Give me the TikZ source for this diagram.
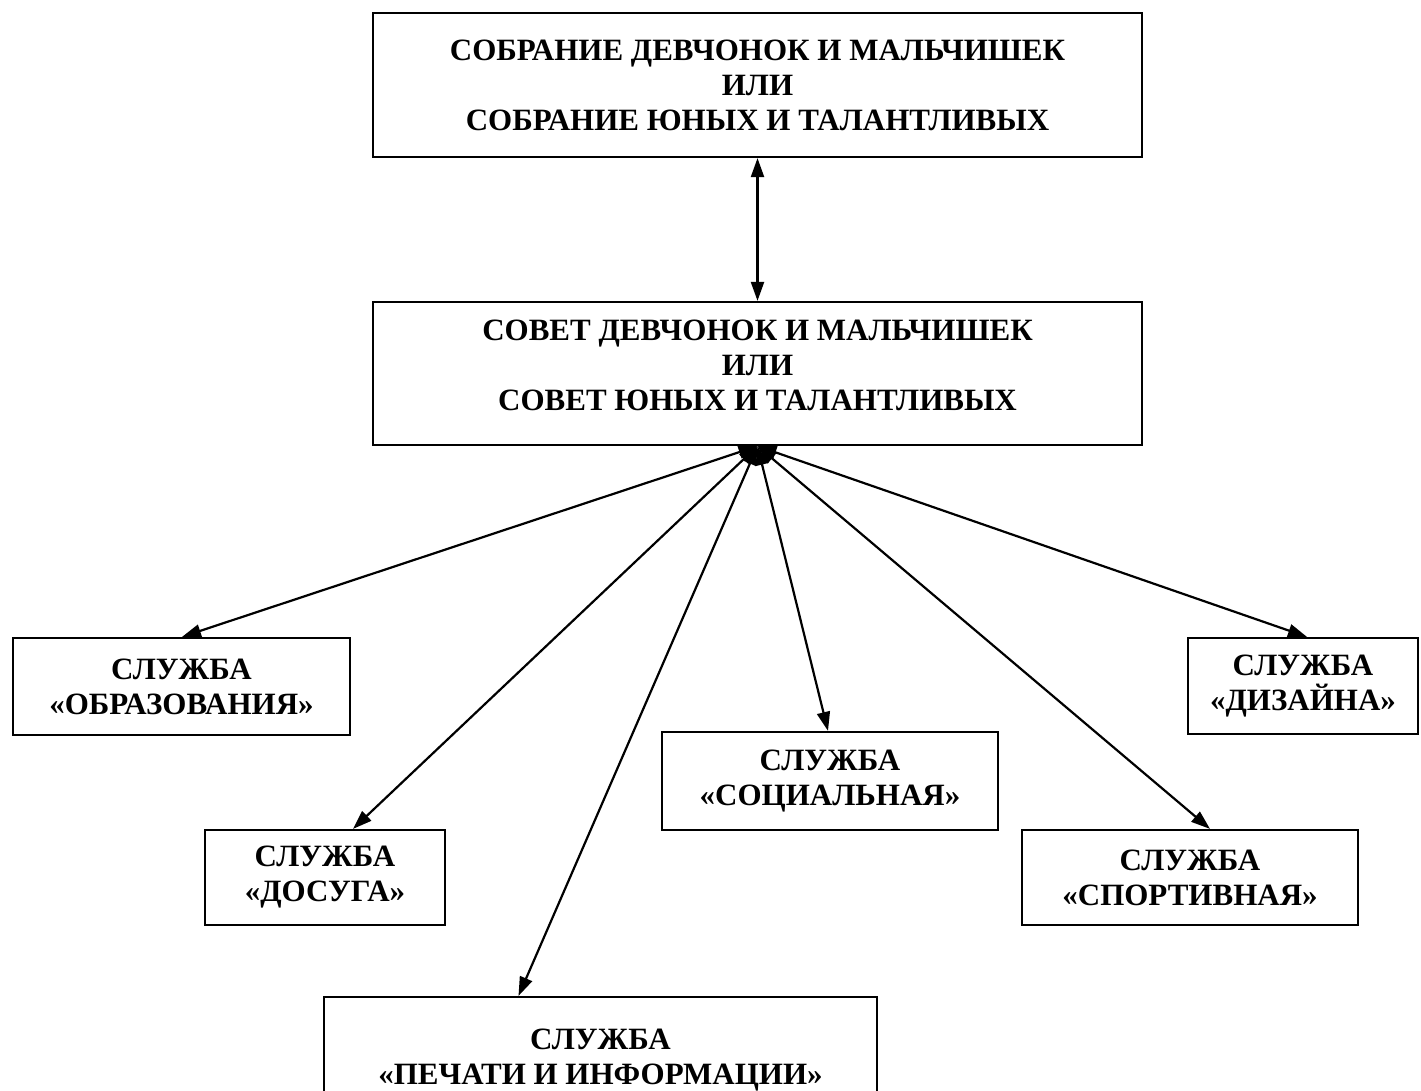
\documentclass[tikz,border=0pt]{standalone}
\usepackage{fontspec}
\setmainfont{Liberation Serif}
\usetikzlibrary{arrows.meta}
\begin{document}
\begin{tikzpicture}[x=1pt,y=-1pt,
  box/.style={draw,line width=2.2pt,rectangle,inner sep=0pt,align=center,
    font=\bfseries\fontsize{31}{35}\selectfont},
  conn/.style={line width=2.2pt,{Triangle[length=19pt,width=13pt]}-{Triangle[length=19pt,width=13pt]}},
]
\useasboundingbox (0,0) rectangle (1421,1091);
\node[box,minimum width=769pt,minimum height=144pt] (top) at (757.5,85)
  {СОБРАНИЕ ДЕВЧОНОК И МАЛЬЧИШЕК\\ИЛИ\\СОБРАНИЕ ЮНЫХ И ТАЛАНТЛИВЫХ};
\node[box,minimum width=769pt,minimum height=143pt] (mid) at (757.5,373.5)
  {СОВЕТ ДЕВЧОНОК И МАЛЬЧИШЕК\\ИЛИ\\СОВЕТ ЮНЫХ И ТАЛАНТЛИВЫХ\\[-19pt]\mbox{}};
\node[box,minimum width=337pt,minimum height=97pt] (obr) at (181.5,686.5)
  {СЛУЖБА\\«ОБРАЗОВАНИЯ»};
\node[box,minimum width=240pt,minimum height=95pt] (dos) at (325,877.5)
  {СЛУЖБА\\«ДОСУГА»};
\node[box,minimum width=553pt,minimum height=126pt] (pech) at (600.5,1060)
  {СЛУЖБА\\«ПЕЧАТИ И ИНФОРМАЦИИ»};
\node[box,minimum width=336pt,minimum height=98pt] (soc) at (830,781)
  {СЛУЖБА\\«СОЦИАЛЬНАЯ»};
\node[box,minimum width=336pt,minimum height=95pt] (spo) at (1190,877.5)
  {СЛУЖБА\\«СПОРТИВНАЯ»};
\node[box,minimum width=230pt,minimum height=96pt] (diz) at (1303,686)
  {СЛУЖБА\\«ДИЗАЙНА»};
\draw[conn] (top.south) -- (mid.north);
\draw[conn] (mid.south) -- ([xshift=0.5pt]obr.north);
\draw[conn] (mid.south) -- ([xshift=28pt]dos.north);
\draw[conn] (mid.south) -- ([xshift=-82pt]pech.north);
\draw[conn] (mid.south) -- ([xshift=-2pt]soc.north);
\draw[conn] (mid.south) -- ([xshift=20pt]spo.north);
\draw[conn] (mid.south) -- ([xshift=4pt]diz.north);
\end{tikzpicture}
\end{document}
